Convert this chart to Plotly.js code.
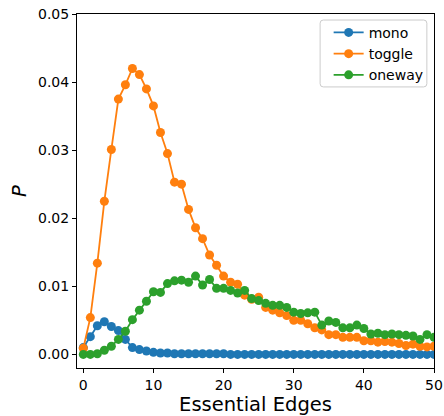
<!DOCTYPE html>
<html>
<head>
<meta charset="utf-8">
<script src="https://cdn.plot.ly/plotly-3.0.1.min.js"></script>
<style>html,body{margin:0;padding:0;background:#fff;}#chart{width:444px;height:416px;}</style>
</head>
<body>
<div id="chart"></div>
<script>
const edges = Array.from({length: 51}, (_, i) => i);
const mono = [0.0010, 0.0026, 0.0042, 0.0048, 0.0041, 0.0035, 0.0022, 0.0010, 0.0007, 0.0005,
  0.0003, 0.0002, 0.0002, 0.0001, 0.0001, 0.0001, 0.0001, 0.0001, 0.0001, 0.0001,
  0.0001, 0.0000, 0.0000, 0.0000, 0.0000, 0.0000, 0.0000, 0.0000, 0.0000, 0.0000,
  0.0000, 0.0000, 0.0000, 0.0000, 0.0000, 0.0000, 0.0000, 0.0000, 0.0000, 0.0000,
  0.0000, 0.0000, 0.0000, 0.0000, 0.0000, 0.0000, 0.0000, 0.0000, 0.0000, 0.0000, 0.0000];
const toggle = [0.0009, 0.0054, 0.0134, 0.0225, 0.0301, 0.0375, 0.0396, 0.0420, 0.0411, 0.0390,
  0.0365, 0.0326, 0.0295, 0.0253, 0.0250, 0.0213, 0.0186, 0.0170, 0.0146, 0.0131,
  0.0115, 0.0106, 0.0103, 0.0087, 0.0081, 0.0084, 0.0069, 0.0065, 0.0061, 0.0057,
  0.0050, 0.0050, 0.0045, 0.0039, 0.0036, 0.0029, 0.0029, 0.0025, 0.0025, 0.0025,
  0.0020, 0.0020, 0.0018, 0.0019, 0.0018, 0.0016, 0.0013, 0.0015, 0.0012, 0.0011, 0.0012];
const oneway = [0.0000, 0.0000, 0.0001, 0.0006, 0.0012, 0.0022, 0.0034, 0.0051, 0.0065, 0.0078,
  0.0092, 0.0091, 0.0104, 0.0108, 0.0109, 0.0106, 0.0115, 0.0102, 0.0110, 0.0097,
  0.0097, 0.0094, 0.0090, 0.0094, 0.0082, 0.0079, 0.0075, 0.0072, 0.0072, 0.0069,
  0.0062, 0.0060, 0.0061, 0.0062, 0.0043, 0.0049, 0.0047, 0.0039, 0.0039, 0.0043,
  0.0038, 0.0030, 0.0031, 0.0029, 0.0030, 0.0029, 0.0028, 0.0027, 0.0022, 0.0029, 0.0025];
const seriesNames = ['mono', 'toggle', 'oneway'];
const colors = ['#1f77b4', '#ff7f0e', '#2ca02c'];
const values = [mono, toggle, oneway];
const xTicks = [0, 10, 20, 30, 40, 50];
const yTicks = [0, 0.01, 0.02, 0.03, 0.04, 0.05];

const traces = values.map((v, i) => ({
  x: edges, y: v, name: seriesNames[i], type: 'scatter', mode: 'lines+markers',
  line: {color: colors[i], width: 1.8},
  marker: {color: colors[i], size: 9}
}));

// legend frame (rounded box) in paper coordinates
const bx0 = 0.681, bx1 = 0.980, by0 = 0.794, by1 = 0.983, rx = 0.009, ry = 0.009;
const framePath = `M ${bx0+rx},${by1} L ${bx1-rx},${by1} Q ${bx1},${by1} ${bx1},${by1-ry} ` +
  `L ${bx1},${by0+ry} Q ${bx1},${by0} ${bx1-rx},${by0} L ${bx0+rx},${by0} ` +
  `Q ${bx0},${by0} ${bx0},${by0+ry} L ${bx0},${by1-ry} Q ${bx0},${by1} ${bx0+rx},${by1} Z`;

const font = {family: 'DejaVu Sans, sans-serif', color: '#000'};
const layout = {
  width: 444, height: 416,
  margin: {l: 77, r: 10, t: 14, b: 48},
  paper_bgcolor: '#fff', plot_bgcolor: '#fff',
  font: Object.assign({size: 14}, font),
  showlegend: true,
  legend: {x: 0.985, y: 0.992, xanchor: 'right', yanchor: 'top',
    bgcolor: 'rgba(0,0,0,0)', borderwidth: 0,
    font: Object.assign({size: 14}, font), tracegroupgap: 0},
  shapes: [{type: 'path', xref: 'paper', yref: 'paper', path: framePath,
    fillcolor: 'rgba(255,255,255,0.8)', line: {color: '#cccccc', width: 1}, layer: 'above'}],
  xaxis: {
    range: [-0.9, 50], tickvals: xTicks, ticktext: xTicks.map(String),
    showgrid: false, zeroline: false, showline: true, mirror: true,
    linecolor: '#000', linewidth: 1, ticks: 'outside', ticklen: 4, tickcolor: '#000',
    tickfont: Object.assign({size: 14}, font),
    title: {text: 'Essential Edges', font: Object.assign({size: 19.5}, font), standoff: 4}
  },
  yaxis: {
    range: [-0.002, 0.05], tickvals: yTicks, ticktext: yTicks.map(t => t.toFixed(2)),
    showgrid: false, zeroline: false, showline: true, mirror: true,
    linecolor: '#000', linewidth: 1, ticks: 'outside', ticklen: 4, tickcolor: '#000',
    tickfont: Object.assign({size: 14}, font),
    title: {text: '<i>P</i>', font: Object.assign({size: 19.5}, font), standoff: 6}
  }
};
Plotly.newPlot('chart', traces, layout, {displayModeBar: false, staticPlot: true});
</script>
</body>
</html>
